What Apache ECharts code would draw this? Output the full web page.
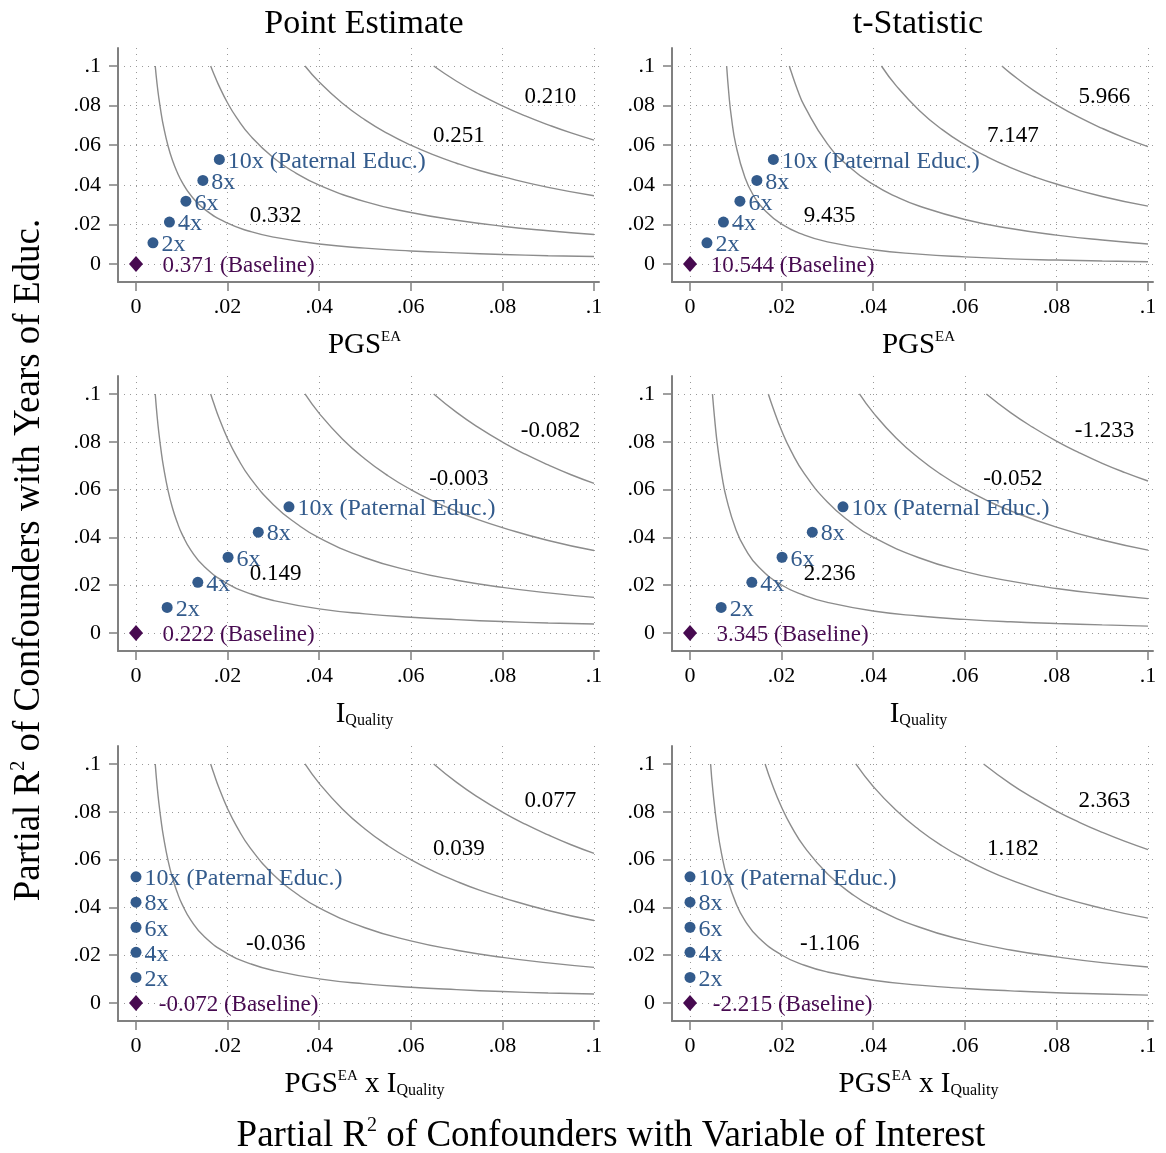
<!DOCTYPE html>
<html><head><meta charset="utf-8">
<script src="https://cdn.jsdelivr.net/npm/echarts@6/dist/echarts.min.js"></script>
<style>html,body{margin:0;padding:0;background:#fff}#c{width:1166px;height:1153px}</style>
</head><body><div id="c"></div>
<script>
// ---------------- DATA ----------------
const tickValues = [0, 0.02, 0.04, 0.06, 0.08, 0.1];
const tickLabels = ['0', '.02', '.04', '.06', '.08', '.1'];

const panelTitles = ['Point Estimate', 't-Statistic'];

const benchNames = ['2x', '4x', '6x', '8x', '10x (Paternal Educ.)'];
const benchY = [0.0107, 0.0212, 0.0317, 0.0422, 0.0528];
const benchX_PGS = [0.0037, 0.0073, 0.0109, 0.0146, 0.0182];
const benchX_IQ = [0.0068, 0.0135, 0.0201, 0.0267, 0.0334];
const benchX_INT = [0, 0, 0, 0, 0];

const baselineValues = ['0.371', '10.544', '0.222', '3.345', '-0.072', '-2.215'];
const baselineLabelX = 0.0224;

const contourLabelX = [0.0305, 0.0705, 0.0905];
const contourLabelY = [0.025, 0.065, 0.085];
const contourLabels_TL = ['0.332', '0.251', '0.210'];
const contourLabels_TR = ['9.435', '7.147', '5.966'];
const contourLabels_ML = ['0.149', '-0.003', '-0.082'];
const contourLabels_MR = ['2.236', '-0.052', '-1.233'];
const contourLabels_BL = ['-0.036', '0.039', '0.077'];
const contourLabels_BR = ['-1.106', '1.182', '2.363'];

// contour curves, point estimate panels (same in all three)
const L1 = [[0.0042,0.1000],[0.0046,0.0909],[0.0050,0.0836],[0.0055,0.0760],[0.0060,0.0696],[0.0070,0.0596],[0.0080,0.0521],[0.0090,0.0463],[0.0100,0.0416],[0.0120,0.0346],[0.0150,0.0276],[0.0200,0.0206],[0.0250,0.0164],[0.0300,0.0136],[0.0400,0.0101],[0.0500,0.0080],[0.0600,0.0066],[0.0700,0.0056],[0.0800,0.0048],[0.0900,0.0042],[0.1000,0.0038]];
const L2 = [[0.0163,0.1000],[0.0170,0.0960],[0.0180,0.0906],[0.0200,0.0813],[0.0220,0.0738],[0.0250,0.0647],[0.0300,0.0537],[0.0350,0.0458],[0.0400,0.0398],[0.0500,0.0315],[0.0600,0.0260],[0.0700,0.0221],[0.0800,0.0191],[0.0900,0.0168],[0.1000,0.0149]];
const L3 = [[0.0369,0.1000],[0.0400,0.0919],[0.0450,0.0813],[0.0500,0.0728],[0.0550,0.0658],[0.0600,0.0600],[0.0650,0.0551],[0.0700,0.0509],[0.0750,0.0472],[0.0800,0.0441],[0.0900,0.0387],[0.1000,0.0345]];
const L4 = [[0.0650,0.1000],[0.0700,0.0923],[0.0750,0.0857],[0.0800,0.0799],[0.0850,0.0748],[0.0900,0.0703],[0.0950,0.0662],[0.1000,0.0626]];

// t-statistic panels
const TR1 = [[0.0080,0.1000],[0.0085,0.0855],[0.0090,0.0748],[0.0100,0.0603],[0.0120,0.0437],[0.0140,0.0341],[0.0160,0.0279],[0.0200,0.0201],[0.0250,0.0146],[0.0300,0.0112],[0.0400,0.0072],[0.0500,0.0050],[0.0600,0.0036],[0.0700,0.0026],[0.0800,0.0020],[0.0900,0.0015],[0.1000,0.0011]];
const TR2 = [[0.0217,0.1000],[0.0220,0.0977],[0.0235,0.0878],[0.0250,0.0797],[0.0300,0.0607],[0.0350,0.0486],[0.0400,0.0402],[0.0450,0.0340],[0.0500,0.0293],[0.0600,0.0225],[0.0700,0.0179],[0.0800,0.0146],[0.0900,0.0121],[0.1000,0.0101]];
const TR3 = [[0.0418,0.1000],[0.0450,0.0901],[0.0500,0.0777],[0.0550,0.0680],[0.0600,0.0603],[0.0650,0.0540],[0.0700,0.0487],[0.0750,0.0442],[0.0800,0.0404],[0.0900,0.0341],[0.1000,0.0292]];
const TR4 = [[0.0681,0.1000],[0.0700,0.0963],[0.0750,0.0877],[0.0800,0.0804],[0.0850,0.0740],[0.0900,0.0685],[0.0950,0.0636],[0.1000,0.0593]];

const MR1 = [[0.0049,0.1000],[0.0055,0.0872],[0.0060,0.0785],[0.0070,0.0654],[0.0080,0.0560],[0.0100,0.0434],[0.0120,0.0354],[0.0150,0.0276],[0.0200,0.0201],[0.0250,0.0157],[0.0300,0.0128],[0.0400,0.0092],[0.0500,0.0071],[0.0600,0.0057],[0.0700,0.0047],[0.0800,0.0040],[0.0900,0.0034],[0.1000,0.0029]];
const MR2 = [[0.0171,0.1000],[0.0180,0.0949],[0.0200,0.0847],[0.0220,0.0764],[0.0250,0.0666],[0.0300,0.0548],[0.0350,0.0464],[0.0400,0.0401],[0.0500,0.0315],[0.0600,0.0257],[0.0700,0.0217],[0.0800,0.0186],[0.0900,0.0163],[0.1000,0.0144]];
const MR3 = [[0.0370,0.1000],[0.0400,0.0922],[0.0450,0.0816],[0.0500,0.0731],[0.0550,0.0661],[0.0600,0.0603],[0.0650,0.0553],[0.0700,0.0511],[0.0800,0.0443],[0.0900,0.0389],[0.1000,0.0347]];
const MR4 = [[0.0647,0.1000],[0.0700,0.0922],[0.0750,0.0859],[0.0800,0.0803],[0.0850,0.0754],[0.0900,0.0710],[0.0950,0.0671],[0.1000,0.0636]];

const BR1 = [[0.0045,0.1000],[0.0050,0.0888],[0.0060,0.0726],[0.0070,0.0614],[0.0080,0.0532],[0.0100,0.0419],[0.0120,0.0345],[0.0150,0.0273],[0.0200,0.0201],[0.0250,0.0158],[0.0300,0.0130],[0.0400,0.0095],[0.0500,0.0075],[0.0600,0.0061],[0.0700,0.0051],[0.0800,0.0043],[0.0900,0.0038],[0.1000,0.0033]];
const BR2 = [[0.0164,0.1000],[0.0180,0.0912],[0.0200,0.0819],[0.0220,0.0743],[0.0250,0.0652],[0.0300,0.0541],[0.0350,0.0461],[0.0400,0.0401],[0.0500,0.0318],[0.0600,0.0262],[0.0700,0.0222],[0.0800,0.0193],[0.0900,0.0169],[0.1000,0.0151]];
const BR3 = [[0.0362,0.1000],[0.0400,0.0906],[0.0450,0.0806],[0.0500,0.0725],[0.0550,0.0658],[0.0600,0.0603],[0.0650,0.0555],[0.0700,0.0515],[0.0800,0.0448],[0.0900,0.0396],[0.1000,0.0355]];
const BR4 = [[0.0641,0.1000],[0.0700,0.0917],[0.0750,0.0857],[0.0800,0.0803],[0.0850,0.0756],[0.0900,0.0714],[0.0950,0.0676],[0.1000,0.0642]];

// ---------------- LAYOUT / STYLE ----------------
const FONT = "'Liberation Serif','Times New Roman',serif";
const BLUE = '#335b8c';
const PURPLE = '#470a50';
const AXIS = '#808080';
const INK = '#000000';

const panels = [
  {grid:{left:118,top:48,width:481,height:234}, ymin:-0.00909, ymax:0.10909, bx:benchX_PGS, curves:[L1,L2,L3,L4], labels:contourLabels_TL, name:'pgs'},
  {grid:{left:672,top:48,width:481,height:234}, ymin:-0.00909, ymax:0.10909, bx:benchX_PGS, curves:[TR1,TR2,TR3,TR4], labels:contourLabels_TR, name:'pgs'},
  {grid:{left:118,top:376,width:481,height:275}, ymin:-0.00752, ymax:0.10752, bx:benchX_IQ, curves:[L1,L2,L3,L4], labels:contourLabels_ML, name:'iq'},
  {grid:{left:672,top:376,width:481,height:275}, ymin:-0.00752, ymax:0.10752, bx:benchX_IQ, curves:[MR1,MR2,MR3,MR4], labels:contourLabels_MR, name:'iq'},
  {grid:{left:118,top:746,width:481,height:275}, ymin:-0.00752, ymax:0.10752, bx:benchX_INT, curves:[L1,L2,L3,L4], labels:contourLabels_BL, name:'int'},
  {grid:{left:672,top:746,width:481,height:275}, ymin:-0.00752, ymax:0.10752, bx:benchX_INT, curves:[BR1,BR2,BR3,BR4], labels:contourLabels_BR, name:'int'}
];

function fmtTick(v){
  for (let i=0;i<tickValues.length;i++){ if (Math.abs(v-tickValues[i])<1e-9) return tickLabels[i]; }
  return '';
}

const nameStrings = {
  pgs: '{b|PGS}{sup|EA}',
  iq: '{b|I}{sub|Quality}',
  int: '{b|PGS}{sup|EA}{b| x I}{sub|Quality}'
};
const nameRich = {
  b: {fontSize:29, fontFamily:FONT, color:INK, lineHeight:30},
  sup: {fontSize:15, fontFamily:FONT, color:INK, verticalAlign:'top', lineHeight:12},
  sub: {fontSize:16, fontFamily:FONT, color:INK, verticalAlign:'bottom', lineHeight:6}
};

const grids=[], xAxes=[], yAxes=[], series=[];
panels.forEach((p,i)=>{
  grids.push(Object.assign({}, p.grid));
  xAxes.push({
    gridIndex:i, type:'value', min:-0.00393, max:0.10109,
    axisLine:{show:true,onZero:false,lineStyle:{color:AXIS,width:2}},
    axisTick:{show:true,customValues:tickValues,length:9,lineStyle:{color:AXIS,width:1.5}},
    axisLabel:{customValues:tickValues,formatter:fmtTick,fontFamily:FONT,fontSize:22,color:INK,margin:14},
    splitLine:{show:true,lineStyle:{type:[1,5],color:'#999999',width:1}},
    name:nameStrings[p.name], nameLocation:'middle', nameGap:48,
    nameTextStyle:{rich:nameRich, padding:[0,0,0,12]}
  });
  yAxes.push({
    gridIndex:i, type:'value', min:p.ymin, max:p.ymax,
    axisLine:{show:true,onZero:false,lineStyle:{color:AXIS,width:2}},
    axisTick:{show:true,customValues:tickValues,length:9,lineStyle:{color:AXIS,width:1.5}},
    axisLabel:{customValues:tickValues,formatter:fmtTick,fontFamily:FONT,fontSize:22,color:INK,margin:17},
    splitLine:{show:true,lineStyle:{type:[1,5],color:'#999999',width:1}}
  });
  p.curves.forEach(c=>{
    series.push({type:'line', xAxisIndex:i, yAxisIndex:i, data:c, symbol:'none', showSymbol:false,
      smooth:0.5, silent:true, z:2,
      lineStyle:{color:'#8c8c8c', width:1.4}});
  });
  series.push({type:'scatter', xAxisIndex:i, yAxisIndex:i, silent:true, z:3,
    symbol:'circle', symbolSize:11, itemStyle:{color:BLUE, opacity:1},
    data: benchNames.map((n,k)=>({name:n, value:[p.bx[k], benchY[k]]})),
    label:{show:true, position:'right', distance:3, offset:[0,2], formatter:'{b}', color:BLUE, opacity:1, fontFamily:FONT, fontSize:24}
  });
  series.push({type:'scatter', xAxisIndex:i, yAxisIndex:i, silent:true, z:3,
    symbol:'diamond', symbolSize:[14,16], itemStyle:{color:PURPLE, opacity:1},
    data:[[0,0]]
  });
  series.push({type:'scatter', xAxisIndex:i, yAxisIndex:i, silent:true, z:4,
    symbolSize:0, itemStyle:{opacity:1},
    data:[{name: baselineValues[i] + ' (Baseline)', value:[baselineLabelX, 0]}],
    label:{show:true, position:'inside', offset:[0,2], formatter:'{b}', color:PURPLE, opacity:1, fontFamily:FONT, fontSize:23}
  });
  series.push({type:'scatter', xAxisIndex:i, yAxisIndex:i, silent:true, z:4,
    symbolSize:0, itemStyle:{opacity:1},
    data: p.labels.map((t,k)=>({name:t, value:[contourLabelX[k], contourLabelY[k]]})),
    label:{show:true, position:'inside', offset:[0,1], formatter:'{b}', color:INK, opacity:1, fontFamily:FONT, fontSize:23}
  });
});

const titleRich = {
  a:{fontSize:37, fontFamily:FONT, fill:INK, lineHeight:40},
  s:{fontSize:20, fontFamily:FONT, fill:INK, verticalAlign:'top', lineHeight:19}
};

const option = {
  backgroundColor:'#ffffff',
  animation:false,
  grid:grids, xAxis:xAxes, yAxis:yAxes, series:series,
  graphic:[
    {type:'text', x:364, y:24, style:{text:panelTitles[0], fontSize:34, fontFamily:FONT, fill:INK, align:'center', verticalAlign:'middle'}},
    {type:'text', x:918, y:24, style:{text:panelTitles[1], fontSize:34, fontFamily:FONT, fill:INK, align:'center', verticalAlign:'middle'}},
    {type:'text', x:611, y:1136, style:{text:'{a|Partial R}{s|2}{a| of Confounders with Variable of Interest}', rich:titleRich, align:'center', verticalAlign:'middle'}},
    {type:'text', x:29, y:560, rotation:Math.PI/2, style:{text:'{a|Partial R}{s|2}{a| of Confounders with Years of Educ.}', rich:titleRich, align:'center', verticalAlign:'middle'}}
  ]
};

const chart = echarts.init(document.getElementById('c'), null, {renderer:'canvas', width:1166, height:1153});
chart.setOption(option);
</script></body></html>
